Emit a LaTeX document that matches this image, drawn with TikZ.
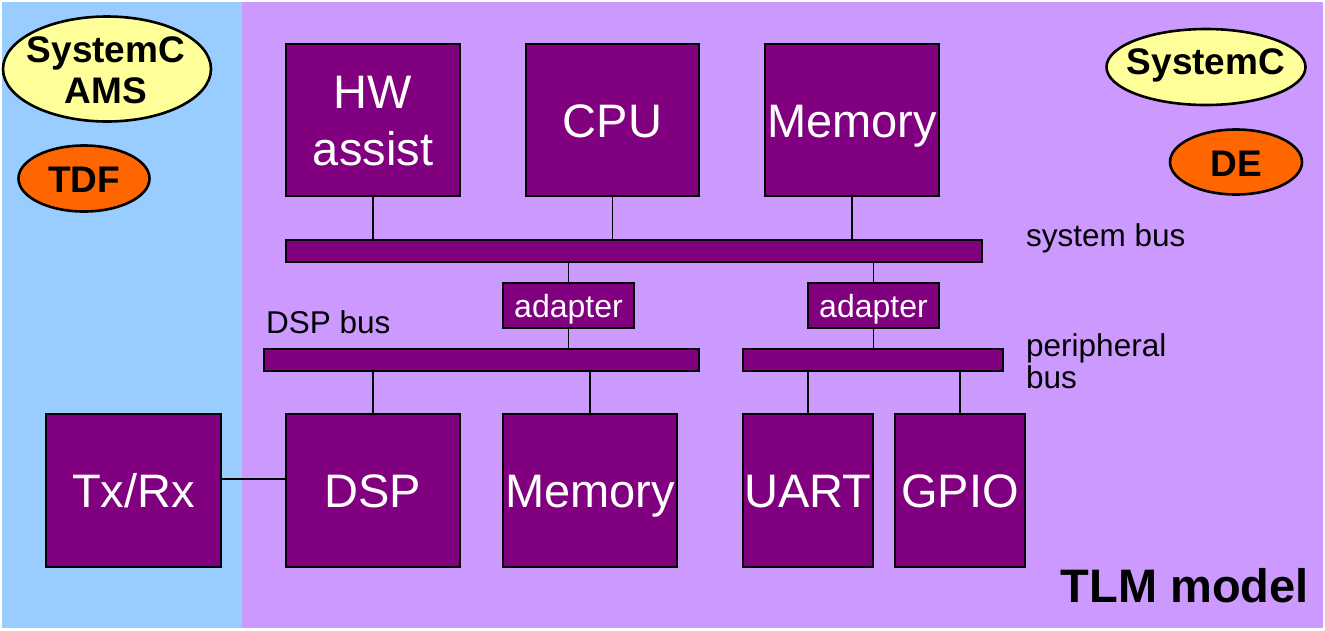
\documentclass[tikz,border=0pt]{standalone}
\usepackage{fontspec}
\setmainfont{Liberation Sans}
\definecolor{amsblue}{HTML}{99CCFF}
\definecolor{tlmlilac}{HTML}{CC99FF}
\definecolor{blockpurple}{HTML}{800080}
\definecolor{pillyellow}{HTML}{FFFF99}
\definecolor{pillorange}{HTML}{FF6600}
\tikzset{
  block/.style={draw=black, line width=1.2pt, fill=blockpurple, text=white,
    inner sep=0pt, align=center, text height=34pt, text depth=-3pt,
    font=\fontsize{47}{57}\selectfont},
  busbar/.style={draw=black, line width=1.2pt, fill=blockpurple, inner sep=0pt},
  adapterbox/.style={block, text height=23pt, text depth=-2pt,
    font=\fontsize{32}{38}\selectfont},
  pillshape/.style={draw=black, line width=2.6pt},
  pilltext/.style={anchor=base, inner sep=0pt, font=\fontsize{37}{41}\bfseries\selectfont},
  wire/.style={draw=black, line width=1.1pt},
  buslabel/.style={anchor=base west, inner sep=0pt, align=left,
    font=\fontsize{31.5}{32}\selectfont}
}
\begin{document}
\begin{tikzpicture}[x=1pt, y=-1pt]
  % canvas and the two modelling domains
  \useasboundingbox (0,0) rectangle (1325,630);
  \fill[white] (0,0) rectangle (1325,630);
  \fill[amsblue] (2,2) rectangle (242,628);
  \fill[tlmlilac] (242,2) rectangle (1323,628);

  % domain tags
  \filldraw[pillshape, fill=pillyellow] (107,69) ellipse (104pt and 52.5pt);
  \node[pilltext] (ams1) at (106,62) {SystemC};
  \node[pilltext] (ams2) at (106,103) {AMS};
  \filldraw[pillshape, fill=pillorange] (84,178.5) ellipse (65.5pt and 33pt);
  \node[pilltext] (tdf) at (84,192) {TDF};
  \filldraw[pillshape, fill=pillyellow] (1206,67) ellipse (99.5pt and 38pt);
  \node[pilltext] (sysc) at (1206,74) {SystemC};
  \filldraw[pillshape, fill=pillorange] (1236,162) ellipse (66pt and 32.5pt);
  \node[pilltext] (de) at (1236.5,176) {DE};

  % top-level components (two-line labels: baseline sits on the last line)
  \node[block, text height=91pt, minimum width=174pt, minimum height=152pt] (hw) at (373,120) {HW\\assist};
  \node[block, minimum width=173pt, minimum height=152pt] (cpu) at (612.5,120) {CPU};
  \node[block, minimum width=174pt, minimum height=152pt] (memtop) at (852,120) {Memory};

  % buses
  \node[busbar, minimum width=696pt, minimum height=22pt] (sysbus) at (634,251) {};
  \node[busbar, minimum width=435pt, minimum height=22pt] (dspbus) at (481.5,360) {};
  \node[busbar, minimum width=260pt, minimum height=22pt] (perbus) at (873,360) {};

  % bus adapters
  \node[adapterbox, minimum width=131pt, minimum height=45pt] (adp1) at (568.5,305.5) {adapter};
  \node[adapterbox, minimum width=131pt, minimum height=45pt] (adp2) at (873.5,305.5) {adapter};

  % lower components
  \node[block, minimum width=175pt, minimum height=153pt] (txrx) at (133.5,490.5) {Tx/Rx};
  \node[block, minimum width=174pt, minimum height=153pt] (dsp) at (373,490.5) {DSP};
  \node[block, minimum width=174pt, minimum height=153pt] (membot) at (590,490.5) {Memory};
  \node[block, minimum width=130pt, minimum height=153pt] (uart) at (808,490.5) {UART};
  \node[block, minimum width=130pt, minimum height=153pt] (gpio) at (960,490.5) {GPIO};

  % bus labels
  \node[buslabel] (lsys) at (1026,246) {system bus};
  \node[buslabel] (ldsp) at (266,333) {DSP bus};
  \node[buslabel] (lper) at (1026,388) {peripheral\\bus};
  \node[anchor=base east, inner sep=0pt, font=\fontsize{47}{50}\bfseries\selectfont] (tlm) at (1309,602) {TLM model};

  % connections
  \draw[wire] (hw.south) -- (hw.south |- sysbus.north);
  \draw[wire] (cpu.south) -- (cpu.south |- sysbus.north);
  \draw[wire] (memtop.south) -- (memtop.south |- sysbus.north);
  \draw[wire] (adp1.north) -- (adp1.north |- sysbus.south);
  \draw[wire] (adp2.north) -- (adp2.north |- sysbus.south);
  \draw[wire] (adp1.south) -- (adp1.south |- dspbus.north);
  \draw[wire] (adp2.south) -- (adp2.south |- perbus.north);
  \draw[wire] (dsp.north) -- (dsp.north |- dspbus.south);
  \draw[wire] (membot.north) -- (membot.north |- dspbus.south);
  \draw[wire] (uart.north) -- (uart.north |- perbus.south);
  \draw[wire] (gpio.north) -- (gpio.north |- perbus.south);
  \coordinate (link) at (0,479);
  \draw[wire] (txrx.east |- link) -- (dsp.west |- link);
\end{tikzpicture}
\end{document}
